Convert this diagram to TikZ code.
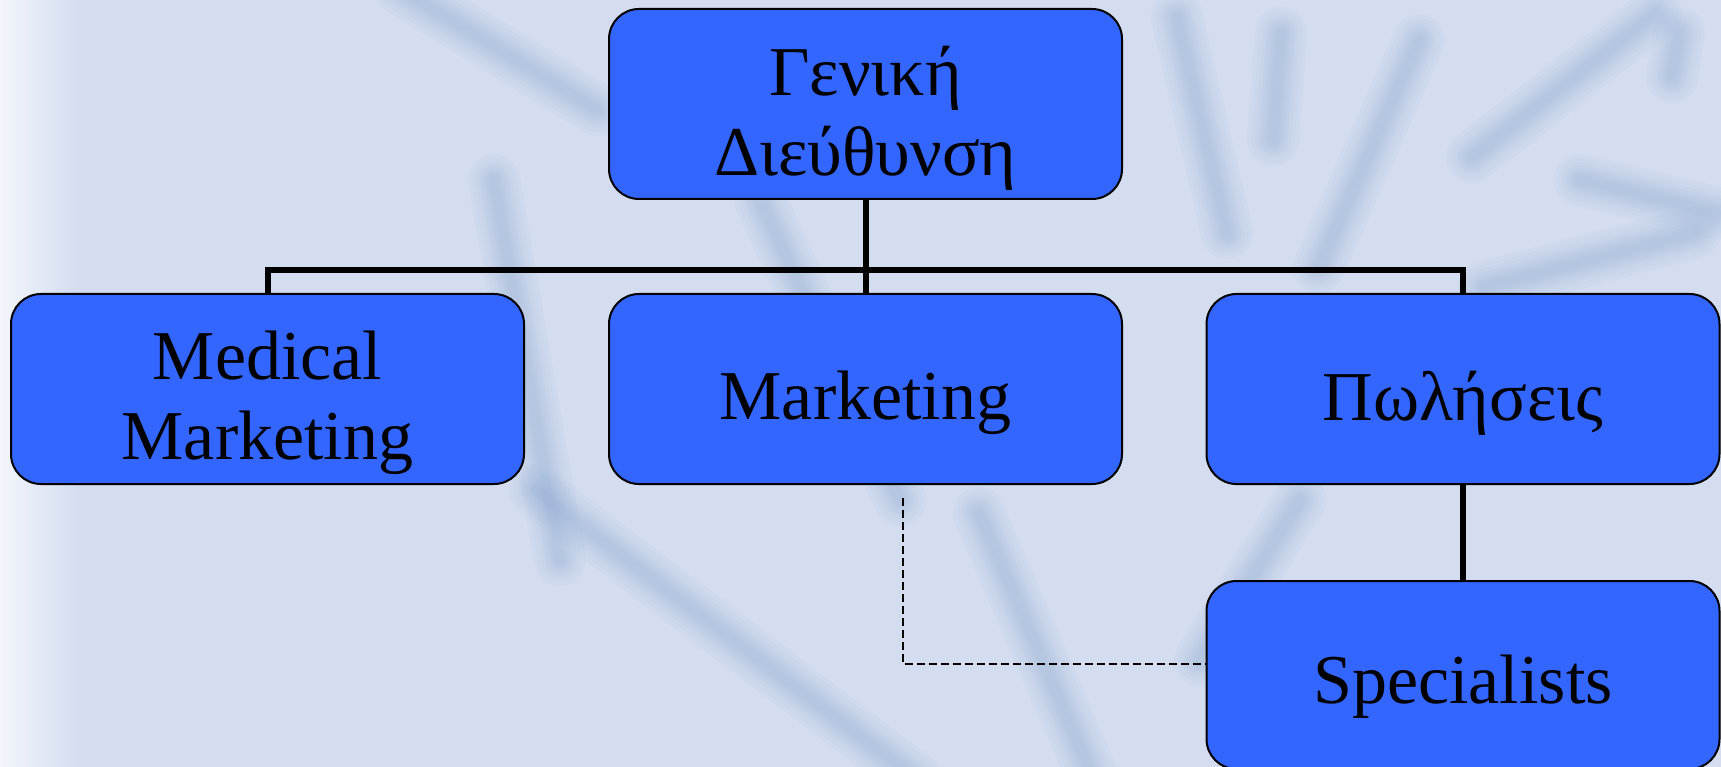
\documentclass[tikz,border=0pt]{standalone}
\usepackage{fontspec}
\setmainfont{Liberation Serif}
\definecolor{boxblue}{RGB}{51,102,255}
\definecolor{bgblue}{RGB}{211,221,239}
\definecolor{bgwhite}{RGB}{242,245,251}
\definecolor{streak}{RGB}{140,168,210}
\tikzset{
  orgbox/.style={draw=black, line width=2pt, fill=boxblue, rounded corners=30pt,
    minimum width=513pt, minimum height=190pt, inner sep=0pt},
  boxtext/.style={align=center, inner sep=0pt,
    font=\fontsize{70}{80}\selectfont, text=black},
  conn/.style={draw=black, line width=6pt},
  dashconn/.style={draw=black, line width=2pt, dash pattern=on 8pt off 4pt},
  blurline/.style={streak, line cap=round, opacity=0.06},
}
\newcommand{\bstreak}[2]{%
  \foreach \w in {52,44,36,29,23,17,12,8}{\draw[blurline, line width=\w pt] #1 -- #2;}
}
\begin{document}
\begin{tikzpicture}[x=1pt,y=-1pt]
\useasboundingbox (0,0) rectangle (1721,767);
\fill[bgblue] (0,0) rectangle (1721,767);
\shade[left color=bgwhite, right color=bgblue] (0,0) rectangle (80,767);
\begin{scope}
\clip (0,0) rectangle (1721,767);
\bstreak{(402,-10)}{(598,110)}
\bstreak{(494,180)}{(560,560)}
\bstreak{(535,490)}{(918,780)}
\bstreak{(979,513)}{(1094,780)}
\bstreak{(760,200)}{(900,500)}
\bstreak{(1177,17)}{(1227,233)}
\bstreak{(1281,33)}{(1273,140)}
\bstreak{(1419,40)}{(1319,267)}
\bstreak{(1656,13)}{(1472,157)}
\bstreak{(1679,33)}{(1672,77)}
\bstreak{(1580,180)}{(1718,213)}
\bstreak{(1695,233)}{(1484,287)}
\bstreak{(1300,500)}{(1200,660)}
\end{scope}

\node[orgbox] (top) at (865.5,104) {};
\node[orgbox] (med) at (267.5,389) {};
\node[orgbox] (mkt) at (865.5,389) {};
\node[orgbox] (pol) at (1463,389) {};
\node[orgbox, minimum height=188pt] (spec) at (1463,675) {};

\node[boxtext] (topt) at ([yshift=-14pt]top.center) {Γενική\\Διεύθυνση};
\node[boxtext] (medt) at ([yshift=-14pt]med.center) {Medical\\Marketing};
\node[boxtext] (mktt) at ([yshift=-14pt]mkt.center) {Marketing};
\node[boxtext] (polt) at ([yshift=-14pt]pol.center) {Πωλήσεις};
\node[boxtext] (spect) at ([yshift=-12pt]spec.center) {Specialists};

\coordinate (bus) at (865.5,270);
\coordinate (d0) at (903,498);

\draw[conn] (top.south) -- (bus);
\draw[conn] (med.north) -- (med.north |- bus) -- (pol.north |- bus) -- (pol.north);
\draw[conn] (bus) -- (mkt.north);
\draw[conn] (pol.south) -- (spec.north);
\draw[dashconn] (d0) |- ([yshift=11pt]spec.west);
\end{tikzpicture}
\end{document}
